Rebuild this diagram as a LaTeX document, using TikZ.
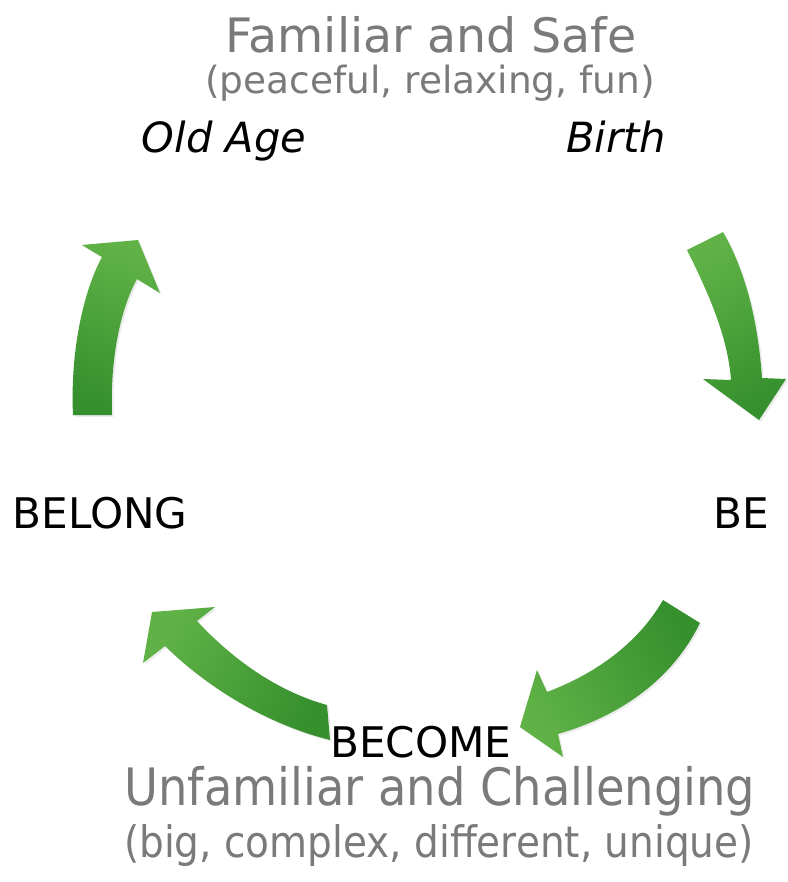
\documentclass[tikz,border=0pt]{standalone}
\usepackage{fontspec}
\setmainfont{DejaVu Sans}
\newfontfamily\condfont{DejaVu Sans Condensed}
\usetikzlibrary{shadows}
\definecolor{text_gray}{RGB}{122,122,122}
\definecolor{arrow_light}{RGB}{96,178,70}
\definecolor{arrow_dark}{RGB}{54,144,46}
\tikzset{
        labelnode/.style={anchor=base,inner sep=0pt},
        % Grey headings
        node_heading/.style={labelnode, text_gray, font=\fontsize{40.5}{48}\selectfont},
        node_sub/.style={labelnode, text_gray, font=\fontsize{32}{38}\selectfont},
        node_heading_cond/.style={labelnode, text_gray, font=\condfont\fontsize{44}{52}\selectfont},
        node_sub_cond/.style={labelnode, text_gray, font=\condfont\fontsize{37}{44}\selectfont},
        % Black stage labels
        node_stage/.style={labelnode, black, font=\fontsize{36}{42}\selectfont},
        node_life/.style={labelnode, black, font=\itshape\fontsize{35.5}{42}\selectfont},
        % Curved block arrows
        arrow_block/.style={shading=axis, left color=arrow_light, right color=arrow_dark,
            draw=none, drop shadow={opacity=0.15, shadow xshift=1.5pt, shadow yshift=-1.5pt}}
}
\begin{document}
\begin{tikzpicture}[x=0.03cm, y=-0.03cm]
    \useasboundingbox (0,0) rectangle (788,882);
    % headings
    \node[node_heading] (familiar) at (431,52) {Familiar and Safe};
    \node[node_sub] (peaceful) at (430,93) {(peaceful, relaxing, fun)};
    \node[node_life] (oldage) at (224,152) {Old Age};
    \node[node_life] (birth) at (616,152) {Birth};
    % stages
    \node[node_stage] (belong) at (100,528) {BELONG};
    \node[node_stage] (be) at (741,528) {BE};
    \node[node_stage] (become) at (421,757) {BECOME};
    \node[node_heading_cond] (unfamiliar) at (440,805) {Unfamiliar and Challenging};
    \node[node_sub_cond] (big) at (439,857) {(big, complex, different, unique)};
    % arrows
    \path[arrow_block, shading angle=30] (687,250) .. controls (712,300) and (728,340) .. (731,380)
        -- (703,379) -- (759,420) -- (786,379) -- (762,378)
        .. controls (758,320) and (745,270) .. (723,232) -- cycle;
    \path[arrow_block, shading angle=120] (663,600) .. controls (640,640) and (600,672) .. (547,692)
        -- (537,670) -- (520,727) -- (563,757) -- (558,734)
        .. controls (620,716) and (672,680) .. (700,623) -- cycle;
    \path[arrow_block, shading angle=60] (327,705) .. controls (280,692) and (235,662) .. (197,621)
        -- (215,607) -- (152,612) -- (143,663) -- (165,646)
        .. controls (210,690) and (270,725) .. (330,740) -- cycle;
    \path[arrow_block, shading angle=-20] (73,415) .. controls (70,350) and (84,290) .. (102,257)
        -- (82,245) -- (138,240) -- (160,293) -- (137,279)
        .. controls (120,310) and (110,360) .. (112,415) -- cycle;
\end{tikzpicture}
\end{document}
